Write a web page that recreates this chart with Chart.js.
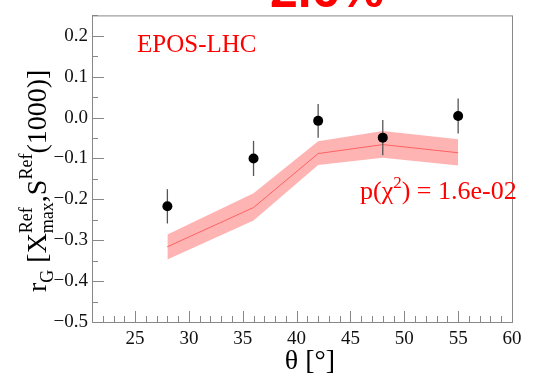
<!DOCTYPE html>
<html>
<head>
<meta charset="utf-8">
<script src="https://cdn.jsdelivr.net/npm/chart.js@4"></script>
<style>
  html, body { margin: 0; padding: 0; background: #fff; }
  #wrap { width: 539px; height: 376px; position: relative; }
</style>
</head>
<body>
<div id="wrap"><canvas id="c" width="539" height="376"></canvas></div>
<script>
const theta = [28, 36, 42, 48, 55];
const dataVals = [-0.217, -0.100, -0.008, -0.049, 0.004];
const dataErr = [0.042, 0.043, 0.041, 0.043, 0.043];
const modelVals = [-0.316, -0.220, -0.088, -0.066, -0.086];
const modelLow = [-0.347, -0.252, -0.116, -0.098, -0.117];
const modelHigh = [-0.286, -0.185, -0.058, -0.033, -0.053];

const serif = '"Liberation Serif", "DejaVu Serif", serif';
const minus = v => v.toFixed(1).replace('-', '\u2212');

const pts = arr => theta.map((t, i) => ({ x: t, y: arr[i] }));

// frame, inward tick marks, error bars, annotations
const decor = {
  id: 'decor',
  beforeDatasetsDraw(chart) {
    const { ctx, chartArea: a } = chart;
    ctx.save();
    ctx.strokeStyle = '#888';
    ctx.lineWidth = 1;
    ctx.strokeRect(a.left + 0.5, a.top + 0.5, a.right - a.left, a.bottom - a.top);
    const xs = chart.scales.x, ys = chart.scales.y;
    ctx.beginPath();
    for (let v = 21; v <= 60; v++) {
      const px = Math.round(xs.getPixelForValue(v)) + 0.5;
      const len = v % 5 === 0 ? 11 : 6;
      ctx.moveTo(px, a.bottom);
      ctx.lineTo(px, a.bottom - len);
    }
    for (let k = -10; k <= 5; k++) {
      const v = k * 0.05;
      const py = Math.round(ys.getPixelForValue(v)) + 0.5;
      const len = k % 2 === 0 ? 12 : 6;
      ctx.moveTo(a.left, py);
      ctx.lineTo(a.left + len, py);
    }
    ctx.stroke();
    ctx.restore();
  },
  afterDatasetsDraw(chart) {
    const { ctx } = chart;
    const xs = chart.scales.x, ys = chart.scales.y;
    ctx.save();
    ctx.strokeStyle = '#555';
    ctx.lineWidth = 1.3;
    theta.forEach((t, i) => {
      const px = xs.getPixelForValue(t);
      ctx.beginPath();
      ctx.moveTo(px, ys.getPixelForValue(dataVals[i] - dataErr[i]));
      ctx.lineTo(px, ys.getPixelForValue(dataVals[i] + dataErr[i]));
      ctx.stroke();
    });
    ctx.fillStyle = '#000';
    theta.forEach((t, i) => {
      ctx.beginPath();
      ctx.arc(xs.getPixelForValue(t), ys.getPixelForValue(dataVals[i]), 5, 0, Math.PI * 2);
      ctx.fill();
    });

    // texts
    ctx.fillStyle = '#ff0000';
    ctx.textBaseline = 'alphabetic';
    ctx.font = `25px ${serif}`;
    ctx.fillText('EPOS-LHC', 137, 52);

    ctx.font = `26px ${serif}`;
    let x = 360, y = 199;
    ctx.fillText('p(\u03c7', x, y); x += ctx.measureText('p(\u03c7').width;
    ctx.font = `17px ${serif}`;
    ctx.fillText('2', x, y - 11); x += ctx.measureText('2').width;
    ctx.font = `26px ${serif}`;
    ctx.fillText(') = 1.6e-02', x, y);

    ctx.font = `bold 50px "Liberation Sans", sans-serif`;
    ctx.fillText('2.6%', 270, 7);

    // x title
    ctx.fillStyle = '#000';
    ctx.font = `28px ${serif}`;
    ctx.textAlign = 'center';
    ctx.fillText('\u03b8 [\u00b0]', 310, 369);

    // y title, rotated
    ctx.translate(46, 292);
    ctx.rotate(-Math.PI / 2);
    ctx.textAlign = 'left';
    const parts = [
      ['r', 28, 0], ['G', 18, 7], [' [X', 28, 0], ['max', 18, 7], ['Ref', 18, -14, true],
      [',S', 28, 0], ['Ref', 18, -14], ['(1000)]', 28, 0]
    ];
    let cx = 0, lastW = 0;
    parts.forEach(([s, size, dy, stack]) => {
      ctx.font = `${size}px ${serif}`;
      if (stack) cx -= lastW;
      ctx.fillText(s, cx, dy);
      const w = ctx.measureText(s).width;
      cx += stack ? Math.max(w, lastW) : w;
      lastW = w;
    });
    ctx.restore();
  }
};

new Chart(document.getElementById('c'), {
  type: 'line',
  data: {
    datasets: [
      {
        label: 'high',
        data: pts(modelHigh),
        borderColor: 'transparent',
        backgroundColor: 'rgba(255,130,130,0.6)',
        fill: '+1',
        pointRadius: 0,
        tension: 0
      },
      {
        label: 'low',
        data: pts(modelLow),
        borderColor: 'transparent',
        fill: false,
        pointRadius: 0,
        tension: 0
      },
      {
        label: 'EPOS-LHC',
        data: pts(modelVals),
        borderColor: '#ff3030',
        borderWidth: 1,
        fill: false,
        pointRadius: 0,
        tension: 0
      }
    ]
  },
  options: {
    responsive: false,
    animation: false,
    layout: { padding: { top: 9, right: 27, left: 0, bottom: 0 } },
    plugins: { legend: { display: false }, tooltip: { enabled: false } },
    scales: {
      x: {
        type: 'linear',
        min: 21,
        max: 60,
        grid: { display: false, drawTicks: false },
        border: { display: false },
        afterFit: s => { s.height = 54; },
        ticks: {
          stepSize: 1,
          autoSkip: false,
          maxRotation: 0,
          padding: 6,
          color: '#111',
          font: { family: serif, size: 19 },
          callback: v => (v % 5 === 0 ? String(v) : '')
        }
      },
      y: {
        min: -0.5,
        max: 0.25,
        grid: { display: false, drawTicks: false },
        border: { display: false },
        afterFit: s => { s.width = 92; },
        ticks: {
          stepSize: 0.05,
          autoSkip: false,
          padding: 4,
          color: '#111',
          font: { family: serif, size: 19 },
          callback: v => {
            const k = Math.round(v * 20);
            if (k % 2 !== 0 || v > 0.21) return '';
            return minus(k / 20);
          }
        }
      }
    }
  },
  plugins: [decor]
});
</script>
</body>
</html>
